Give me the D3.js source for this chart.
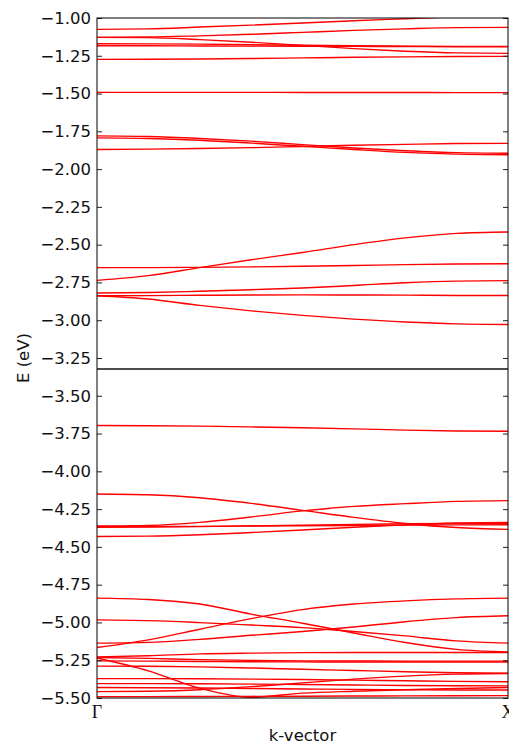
<!DOCTYPE html>
<html>
<head>
<meta charset="utf-8">
<script src="https://cdn.jsdelivr.net/npm/d3@7"></script>
<style>
  body { margin: 0; background: #fff; }
  svg { display: block; }
  .axis text { font-family: "DejaVu Sans", sans-serif; font-size: 16.5px; fill: #111; }
  .axis path { display: none; }
  .axis line { stroke: #222; stroke-width: 1; }
</style>
</head>
<body>
<svg id="chart"></svg>
<script>
// k path from Gamma (0) to X (1)
const kGrid = [0, 0.125, 0.25, 0.375, 0.5, 0.625, 0.75, 0.875, 1];
const kLabels = ['Γ', 'X'];
const kLabelPos = [0, 1];

// band energies (eV) sampled on kGrid
const bandsUpper = [
  [-1.075, -1.072, -1.060, -1.047, -1.033, -1.018, -1.005, -0.992, -0.985],
  [-1.128, -1.126, -1.118, -1.108, -1.095, -1.082, -1.072, -1.064, -1.062],
  [-1.128, -1.130, -1.143, -1.160, -1.181, -1.203, -1.220, -1.231, -1.234],
  [-1.170, -1.171, -1.173, -1.177, -1.180, -1.184, -1.186, -1.188, -1.188],
  [-1.184, -1.184, -1.185, -1.186, -1.187, -1.188, -1.189, -1.190, -1.190],
  [-1.274, -1.273, -1.271, -1.268, -1.264, -1.260, -1.257, -1.255, -1.254],
  [-1.492, -1.492, -1.492, -1.492, -1.493, -1.493, -1.493, -1.494, -1.494],
  [-1.780, -1.784, -1.797, -1.815, -1.838, -1.860, -1.878, -1.891, -1.895],
  [-1.793, -1.797, -1.809, -1.828, -1.849, -1.870, -1.889, -1.901, -1.905],
  [-1.870, -1.868, -1.864, -1.858, -1.850, -1.842, -1.836, -1.831, -1.830]
];
const bandsMiddle = [
  [-2.652, -2.652, -2.650, -2.647, -2.643, -2.638, -2.632, -2.628, -2.626],
  [-2.736, -2.705, -2.652, -2.600, -2.552, -2.500, -2.455, -2.425, -2.416],
  [-2.820, -2.817, -2.808, -2.798, -2.787, -2.770, -2.752, -2.741, -2.738],
  [-2.838, -2.837, -2.835, -2.833, -2.832, -2.833, -2.834, -2.836, -2.836],
  [-2.838, -2.860, -2.902, -2.938, -2.968, -2.993, -3.012, -3.024, -3.028]
];
const bandsLower = [
  [-3.697, -3.698, -3.701, -3.706, -3.712, -3.719, -3.727, -3.733, -3.735],
  [-4.150, -4.155, -4.175, -4.212, -4.258, -4.305, -4.345, -4.372, -4.384],
  [-4.362, -4.358, -4.338, -4.302, -4.262, -4.232, -4.214, -4.199, -4.194],
  [-4.365, -4.365, -4.364, -4.362, -4.360, -4.358, -4.356, -4.354, -4.353],
  [-4.370, -4.369, -4.366, -4.361, -4.356, -4.351, -4.347, -4.345, -4.344],
  [-4.431, -4.429, -4.420, -4.405, -4.388, -4.370, -4.354, -4.342, -4.338]
];
const bandsBottom = [
  [-4.839, -4.848, -4.878, -4.945, -5.005, -5.070, -5.133, -5.178, -5.195],
  [-4.983, -4.988, -5.001, -5.017, -5.034, -5.060, -5.089, -5.122, -5.137],
  [-5.166, -5.115, -5.045, -4.975, -4.915, -4.878, -4.857, -4.844, -4.839],
  [-5.137, -5.132, -5.112, -5.085, -5.060, -5.030, -4.995, -4.968, -4.956],
  [-5.228, -5.220, -5.208, -5.203, -5.200, -5.199, -5.199, -5.199, -5.199],
  [-5.232, -5.238, -5.246, -5.251, -5.254, -5.255, -5.256, -5.256, -5.256],
  [-5.254, -5.256, -5.258, -5.260, -5.261, -5.262, -5.262, -5.262, -5.262],
  [-5.289, -5.290, -5.294, -5.301, -5.310, -5.318, -5.326, -5.333, -5.336],
  [-5.235, -5.320, -5.435, -5.495, -5.468, -5.455, -5.445, -5.437, -5.431],
  [-5.372, -5.372, -5.373, -5.375, -5.378, -5.382, -5.386, -5.390, -5.392],
  [-5.405, -5.405, -5.406, -5.408, -5.411, -5.414, -5.417, -5.419, -5.420],
  [-5.431, -5.432, -5.434, -5.437, -5.440, -5.443, -5.445, -5.447, -5.447],
  [-5.458, -5.455, -5.445, -5.425, -5.400, -5.375, -5.355, -5.342, -5.338],
  [-5.491, -5.491, -5.490, -5.489, -5.488, -5.487, -5.486, -5.485, -5.484]
];
const fermiLevel = -3.323;
const yTicks = [-1.00, -1.25, -1.50, -1.75, -2.00, -2.25, -2.50, -2.75, -3.00, -3.25,
                -3.50, -3.75, -4.00, -4.25, -4.50, -4.75, -5.00, -5.25, -5.50];
const yDomain = [-5.5, -1.0];

const width = 509, height = 744;
const plotLeft = 97, plotRight = 508, plotTop = 18, plotBottom = 698;

const svg = d3.select('#chart').attr('width', width).attr('height', height);

const x = d3.scaleLinear().domain([0, 1]).range([plotLeft, plotRight]);
const y = d3.scaleLinear().domain(yDomain).range([plotBottom, plotTop]);

svg.append('defs').append('clipPath').attr('id', 'plotclip')
  .append('rect')
  .attr('x', plotLeft).attr('y', plotTop)
  .attr('width', plotRight - plotLeft).attr('height', plotBottom - plotTop);

const allBands = bandsUpper.concat(bandsMiddle, bandsLower, bandsBottom);

const line = d3.line()
  .x((d, i) => x(kGrid[i]))
  .y(d => y(d))
  .curve(d3.curveMonotoneX);

const plot = svg.append('g').attr('clip-path', 'url(#plotclip)');

plot.selectAll('path.band')
  .data(allBands)
  .enter().append('path')
  .attr('class', 'band')
  .attr('d', line)
  .attr('fill', 'none')
  .attr('stroke', '#ff0000')
  .attr('stroke-width', 1.4);

plot.append('line')
  .attr('x1', x(0)).attr('x2', x(1))
  .attr('y1', y(fermiLevel)).attr('y2', y(fermiLevel))
  .attr('stroke', '#111')
  .attr('stroke-width', 1.5);

// y axes, ticks pointing inwards
svg.append('g')
  .attr('class', 'axis')
  .attr('transform', `translate(${plotLeft},0)`)
  .call(d3.axisLeft(y).tickValues(yTicks).tickSize(-5).tickPadding(6)
    .tickFormat(d3.format('.2f')));

svg.append('g')
  .attr('class', 'axis')
  .attr('transform', `translate(${plotRight},0)`)
  .call(d3.axisRight(y).tickValues(yTicks).tickSize(-5).tickFormat(''));

// frame
svg.append('rect')
  .attr('x', plotLeft).attr('y', plotTop)
  .attr('width', plotRight - plotLeft).attr('height', plotBottom - plotTop)
  .attr('fill', 'none')
  .attr('stroke', '#000')
  .attr('stroke-width', 1);

// k-point labels (X sits on the right spine and is cut by the page edge, as in the original)
svg.selectAll('text.klabel')
  .data(kLabels)
  .enter().append('text')
  .attr('class', 'klabel')
  .attr('x', (d, i) => x(kLabelPos[i]))
  .attr('y', 718)
  .attr('text-anchor', 'middle')
  .style('font-family', '"Liberation Serif", "DejaVu Serif", serif')
  .style('font-size', '18px')
  .style('fill', '#111')
  .text(d => d);

svg.append('text')
  .attr('x', (plotLeft + plotRight) / 2)
  .attr('y', 741)
  .attr('text-anchor', 'middle')
  .style('font-family', '"DejaVu Sans", sans-serif')
  .style('font-size', '16.5px')
  .style('fill', '#111')
  .text('k-vector');

svg.append('text')
  .attr('transform', `translate(29,${(plotTop + plotBottom) / 2}) rotate(-90)`)
  .attr('text-anchor', 'middle')
  .style('font-family', '"DejaVu Sans", sans-serif')
  .style('font-size', '16.5px')
  .style('fill', '#111')
  .text('E (eV)');
</script>
</body>
</html>
